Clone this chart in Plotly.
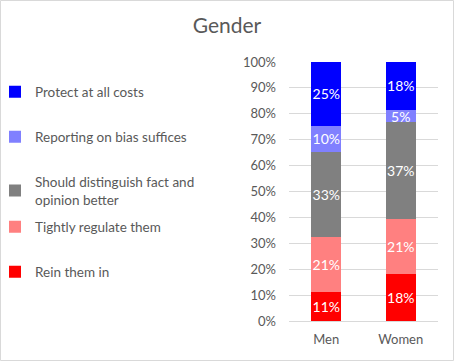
import plotly.graph_objects as go

categories = ["Men", "Women"]
series_names = ["Rein them in", "Tightly regulate them",
                "Should distinguish fact and<br>opinion better",
                "Reporting on bias suffices", "Protect at all costs"]
rein = [11.3, 18.1]
tightly = [21.1, 21.3]
distinguish = [33.0, 37.4]
reporting = [9.9, 4.7]
protect = [24.7, 18.5]
series_values = [rein, tightly, distinguish, reporting, protect]
colors = ["#FF0000", "#FF8080", "#808080", "#8080FF", "#0000FF"]
ytick_vals = list(range(0, 101, 10))
ytick_text = [f"{v}%" for v in ytick_vals]

W, H = 454, 361
ML, MR, MT, MB = 289, 16, 62, 40
FONT = "Lato"
GREY = "#595959"
pw = W - ML - MR
ph = H - MT - MB

# legend text centre positions (px from top)
legend_y_px = [272, 227, 191, 137, 92]
legend_names = ["legend5", "legend4", "legend3", "legend2", "legend"]

fig = go.Figure()
for name, vals, col, lg in zip(series_names, series_values, colors, legend_names):
    fig.add_trace(go.Bar(
        x=categories, y=vals, name=name, marker_color=col,
        marker_line_width=0,
        text=[f"{v:.0f}%" for v in vals], textposition="inside",
        insidetextanchor="middle", textangle=0, constraintext="none",
        textfont=dict(color="white", size=14, family=FONT),
        legend=lg,
    ))

layout_legends = {}
for lg, ypx in zip(legend_names, legend_y_px):
    layout_legends[lg] = dict(
        x=(-5 - ML) / pw, xref="paper", xanchor="left",
        y=1 - ypx / H, yref="container", yanchor="middle",
        font=dict(family=FONT, size=13.5, color=GREY),
        bgcolor="rgba(0,0,0,0)", borderwidth=0,
    )

fig.update_layout(
    width=W, height=H,
    margin=dict(l=ML, r=MR, t=MT, b=MB, autoexpand=False),
    barmode="stack", bargap=0.6,
    uniformtext=dict(mode=False),
    paper_bgcolor="white", plot_bgcolor="white",
    title=dict(text="Gender", x=0.5, xref="container", xanchor="center",
               y=1 - 26 / H, yref="container", yanchor="middle",
               font=dict(family=FONT, size=21, color=GREY)),
    font=dict(family=FONT, size=13, color=GREY),
    showlegend=True,
    **layout_legends,
)
fig.update_yaxes(range=[0, 100], tickvals=ytick_vals, ticktext=ytick_text,
                 showgrid=True, gridcolor="#D9D9D9", gridwidth=1,
                 zeroline=False, showline=False, ticks="",
                 ticklabelstandoff=12,
                 tickfont=dict(family=FONT, size=13, color=GREY))
fig.update_xaxes(showgrid=False, showline=True, linecolor="#D9D9D9", linewidth=1,
                 ticks="", ticklabelstandoff=6,
                 tickfont=dict(family=FONT, size=13, color=GREY))

fig.add_shape(type="rect", xref="paper", yref="paper",
              x0=(0.5 - ML) / pw, x1=(W - 0.5 - ML) / pw,
              y0=(0.5 - MB) / ph, y1=(H - 0.5 - MB) / ph,
              line=dict(color="#D9D9D9", width=1), fillcolor="rgba(0,0,0,0)",
              layer="below")

fig.write_html("out.html", config={"displayModeBar": False},
               post_script="document.body.style.margin='0';document.body.style.padding='0';")
